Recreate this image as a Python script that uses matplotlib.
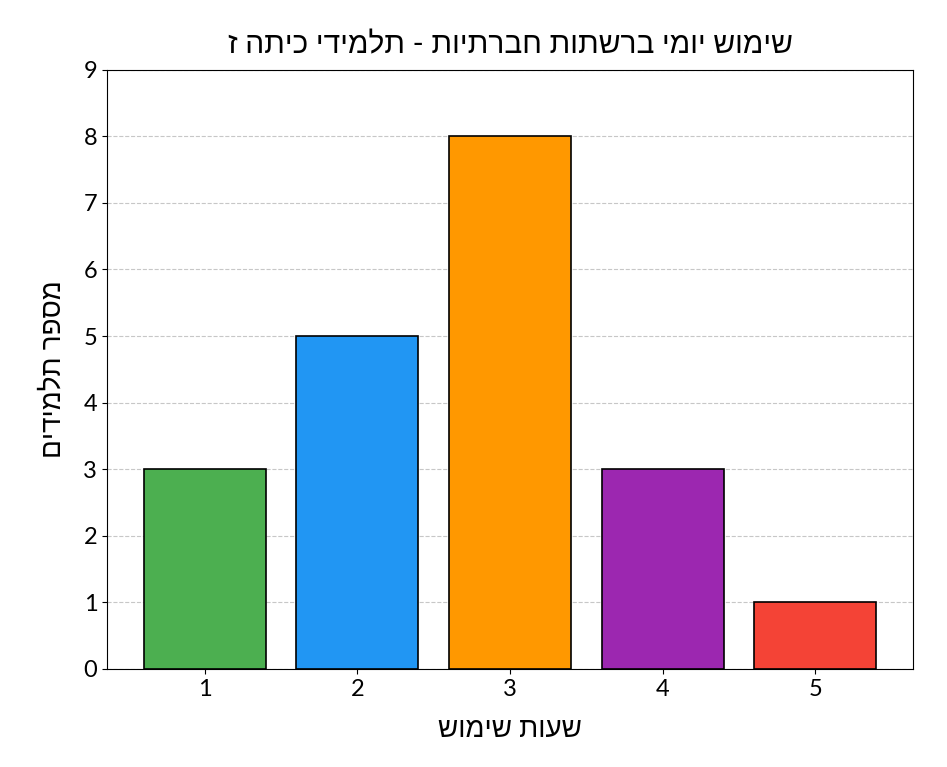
import matplotlib
matplotlib.use("Agg")
import matplotlib.pyplot as plt

plt.rcParams['font.family'] = ['Lato', 'Liberation Sans', 'DejaVu Sans']

hours = [1, 2, 3, 4, 5]
students = [3, 5, 8, 3, 1]
colors = ['#4CAF50', '#2196F3', '#FF9800', '#9C27B0', '#F44336']

# matplotlib draws left to right, so the Hebrew text is flipped to read right
title = "שימוש יומי ברשתות חברתיות - תלמידי כיתה ז"[::-1]
xlabel = "שעות שימוש"[::-1]
ylabel = "מספר תלמידים"[::-1]

fig = plt.figure(figsize=(9.47, 7.67), dpi=100)
ax = fig.add_axes([0.113, 0.128, 0.851, 0.781])

ax.bar(hours, students, color=colors, edgecolor='black', width=0.8, linewidth=1.2)
ax.set_axisbelow(True)
ax.grid(axis='y', linestyle='--', alpha=0.7, color='#b0b0b0')

ax.set_ylim(0, 9)
ax.set_xticks(hours)
ax.set_yticks(range(0, 10))
ax.tick_params(labelsize=17)
ax.set_title(title, fontsize=21.5, pad=12)
ax.set_xlabel(xlabel, fontsize=20, labelpad=12)
ax.set_ylabel(ylabel, fontsize=20, labelpad=13)

fig.savefig("out.png", dpi=100)
